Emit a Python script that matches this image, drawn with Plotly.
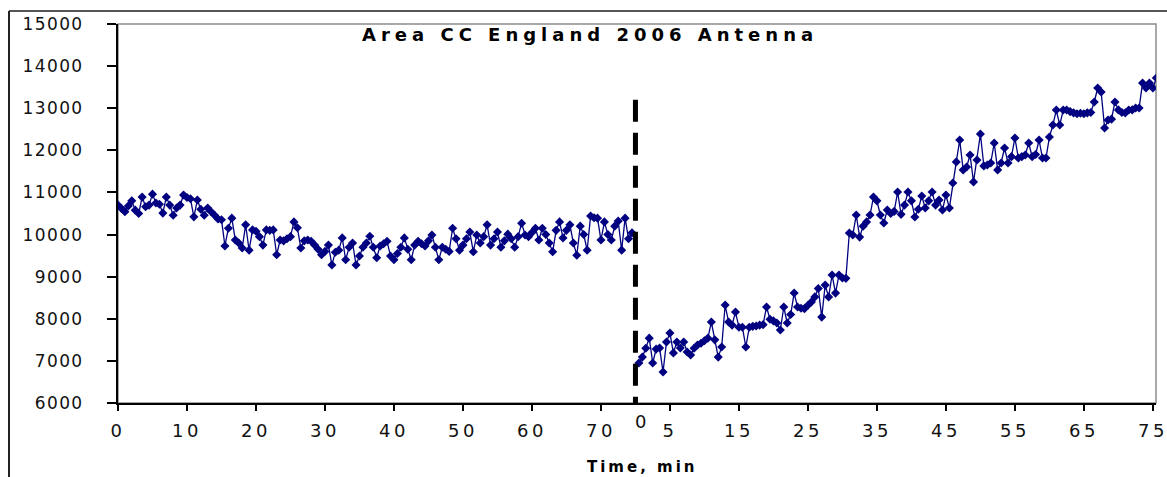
import plotly.graph_objects as go

# ---------------- data ----------------
# Before the antenna (time in min, sampled every 0.5 min starting at 0)
before_step = 0.5
before_values = [
    10700, 10620, 10540, 10680, 10800, 10580, 10500, 10890, 10660, 10700,
    10960, 10750, 10720, 10510, 10890, 10700, 10460, 10630, 10700, 10940,
    10880, 10850, 10420, 10820, 10600, 10460, 10630, 10540, 10460, 10370,
    10350, 9730, 10150, 10390, 9870, 9800, 9680, 10230, 9630, 10110,
    10080, 9950, 9750, 10110, 10100, 10110, 9520, 9870, 9850, 9900,
    9950, 10300, 10160, 9680, 9850, 9870, 9840, 9750, 9650, 9520,
    9600, 9750, 9280, 9580, 9630, 9920, 9400, 9700, 9800, 9280,
    9490, 9700, 9800, 9960, 9700, 9450, 9730, 9780, 9840, 9490,
    9400, 9550, 9700, 9920, 9650, 9400, 9750, 9840, 9780, 9730,
    9850, 9990, 9700, 9400, 9700, 9650, 9600, 10150, 9900, 9630,
    9750, 9900, 10060, 9590, 9990, 9800, 9950, 10230, 9750, 9900,
    10060, 9700, 9850, 10010, 9900, 9700, 9950, 10270, 9990, 9950,
    10050, 10150, 9870, 10150, 10000, 9800, 9590, 10100, 10300, 9920,
    10100, 10230, 9800, 9510, 10200, 10000, 9630, 10440, 10400, 10390,
    9870, 10300, 10000, 9870, 10200, 10320, 9630, 10390, 9900, 10040,
]
before_times = [i * before_step for i in range(len(before_values))]

# After the antenna (local time in min, every 0.5 min starting at 0.5)
after_start = 0.5
after_step = 0.5
after_values = [
    6950, 7090, 7300, 7540, 6950, 7280, 7305, 6735, 7450, 7660,
    7190, 7450, 7305, 7450, 7210, 7140, 7300, 7376, 7420, 7480,
    7540, 7923, 7500, 7090, 7330, 8326, 7923, 7850, 8160, 7800,
    7800, 7330, 7800, 7820, 7830, 7850, 7860, 8280, 7990, 7950,
    7900, 7733, 8280, 7900, 8100, 8611, 8280, 8250, 8240, 8320,
    8400, 8520, 8720, 8040, 8800, 8520, 9040, 8610, 9040, 8967,
    8960, 10036, 9990, 10464, 9940, 10200, 10300, 10464, 10890, 10800,
    10464, 10274, 10583, 10500, 10550, 11010, 10480, 10700, 11010, 10800,
    10416, 10600, 10915, 10630, 10800, 11010, 10700, 10820, 10583, 10940,
    10630, 11224, 11725, 12245, 11535, 11604, 11890, 11250, 11770, 12388,
    11630, 11650, 11700, 12174, 11535, 11700, 12055, 11700, 11850, 12293,
    11818, 11850, 11890, 12174, 11850, 11900, 12245, 11818, 11818, 12316,
    12600, 12957, 12600, 12957, 12957, 12920, 12890, 12870, 12880, 12870,
    12890, 12900, 13148, 13480, 13385, 12530, 12720, 12740, 13148, 12960,
    12900, 12890, 12957, 12960, 13005, 13005, 13600, 13480, 13600, 13480,
    13720,
]
antenna_time = 75  # position of the dashed separator on the shared axis
after_times = [antenna_time + after_start + i * after_step for i in range(len(after_values))]

x_tick_vals = [0, 10, 20, 30, 40, 50, 60, 70, 80, 90, 100, 110, 120, 130, 140, 150]
x_tick_text = ["0", "10", "20", "30", "40", "50", "60", "70",
               "5", "15", "25", "35", "45", "55", "65", "75"]
y_tick_vals = [6000, 7000, 8000, 9000, 10000, 11000, 12000, 13000, 14000, 15000]

title_text = "Area CC England 2006 Antenna"
x_title = "Time, min"
separator_top = 13200

# ---------------- figure ----------------
NAVY = "#000080"
FONT = "DejaVu Sans"


def spaced(t, px):
    return f'<span style="letter-spacing:{px}px">{t}</span>'


fig = go.Figure()
for xs, ys in ((before_times, before_values), (after_times, after_values)):
    fig.add_trace(go.Scatter(
        x=xs, y=ys, mode="lines+markers",
        line=dict(color=NAVY, width=1.3),
        marker=dict(symbol="diamond", size=7, color=NAVY),
        showlegend=False, hoverinfo="x+y",
    ))

W, H = 1167, 477
# target pixels: plot left 118, right 1156, top 24, bottom 403
ML, MT = 118, 24
MR = W - 1156
MB = H - 403
pw = W - ML - MR
ph = H - MT - MB


def px_x(p):
    return (p - ML) / pw


def px_y(p):
    return (H - MB - p) / ph


xtickfont = dict(family=FONT, size=18, color="#111111")
ytickfont = dict(family=FONT, size=17, color="#111111")

fig.update_layout(
    width=W, height=H,
    margin=dict(l=ML, r=MR, t=MT, b=MB, pad=0, autoexpand=False),
    paper_bgcolor="white", plot_bgcolor="white",
    font=dict(family=FONT, size=18, color="#111111"),
    xaxis=dict(
        range=[0, 150.45], tickmode="array", tickvals=x_tick_vals,
        ticktext=[spaced(t, 3.5) for t in x_tick_text],
        showgrid=False, zeroline=False, showline=True, linecolor="black", linewidth=2,
        ticks="outside", ticklen=6, tickwidth=1.5, tickcolor="black", automargin=False,
        ticklabelstandoff=4, ticklabeloverflow="allow", tickfont=xtickfont,
    ),
    yaxis=dict(
        range=[6000, 15000], tickmode="array", tickvals=y_tick_vals,
        ticktext=[spaced(str(v), 1.4) for v in y_tick_vals],
        showgrid=False, zeroline=False, showline=True, linecolor="black", linewidth=2,
        ticks="outside", ticklen=9, tickwidth=1.5, tickcolor="black", automargin=False,
        ticklabelstandoff=20, ticklabeloverflow="allow", tickfont=ytickfont,
    ),
    shapes=[
        dict(type="rect", xref="paper", yref="paper", x0=0, x1=1, y0=0, y1=1,
             line=dict(color="#8c8c8c", width=1.5), layer="below"),
        dict(type="line", xref="paper", yref="paper", x0=px_x(9), x1=px_x(W), y0=px_y(11), y1=px_y(11),
             line=dict(color="#555555", width=2)),
        dict(type="line", xref="paper", yref="paper", x0=px_x(9), x1=px_x(9), y0=px_y(11), y1=px_y(H),
             line=dict(color="#222222", width=2)),
        dict(type="line", xref="x", yref="y", x0=antenna_time, x1=antenna_time,
             y0=separator_top, y1=6000, line=dict(color="black", width=5, dash="22px,11px")),
    ],
    annotations=[
        dict(text="<b>" + spaced(title_text, 5) + "</b>", xref="paper", yref="paper",
             x=px_x(590), y=px_y(34), xanchor="center", yanchor="middle", showarrow=False,
             font=dict(family=FONT, size=18, color="black")),
        dict(text="<b>" + spaced(x_title, 3) + "</b>", xref="paper", yref="paper",
             x=px_x(642), y=px_y(467), xanchor="center", yanchor="middle", showarrow=False,
             font=dict(family=FONT, size=15, color="black")),
        dict(text="0", xref="x", yref="paper",
             x=75.8, y=px_y(421), xanchor="center", yanchor="middle", showarrow=False,
             font=xtickfont),
    ],
)

fig.write_html("out.html", config={"displayModeBar": False},
               post_script="document.body.style.margin='0';")
